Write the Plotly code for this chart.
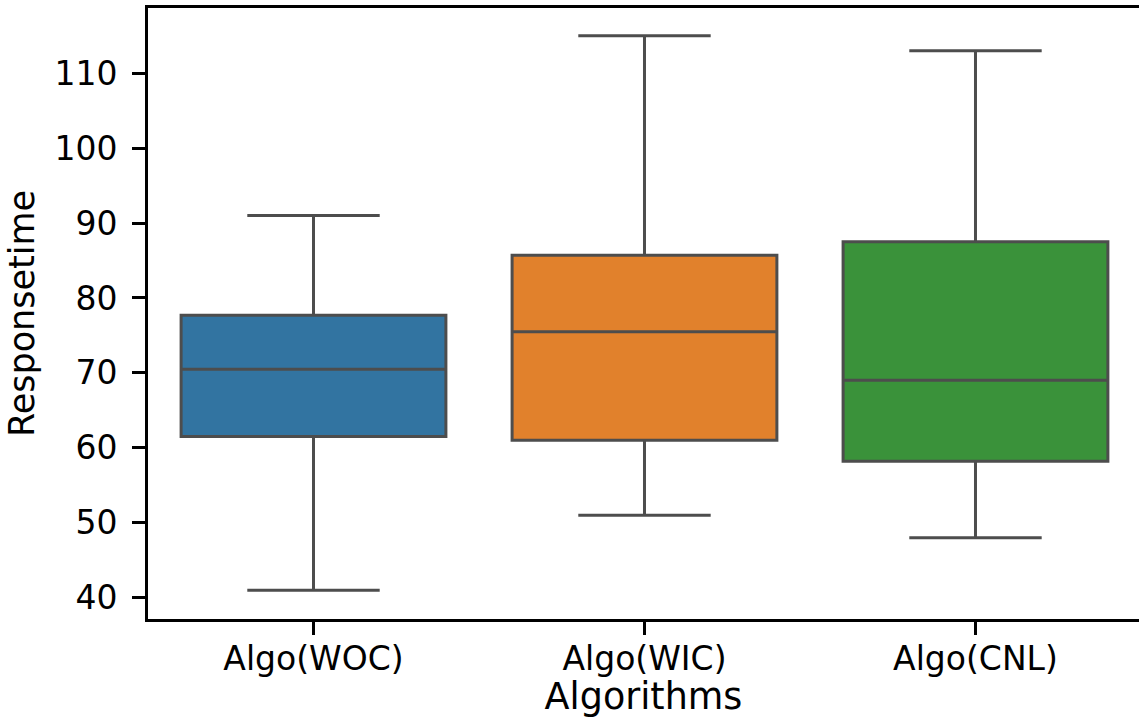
import plotly.graph_objects as go

# Box statistics per algorithm (response time)
algorithms = ["Algo(WOC)", "Algo(WIC)", "Algo(CNL)"]
lower_whisker = [41, 51, 48]
q1 = [61.5, 61, 58.2]
median = [70.5, 75.5, 69]
q3 = [77.7, 85.7, 87.5]
upper_whisker = [91, 115, 113]
colors = ["#3274a1", "#e1812c", "#3a923a"]
y_ticks = [40, 50, 60, 70, 80, 90, 100, 110]

edge = "#4d4d4d"
font_family = "DejaVu Sans, Liberation Sans, sans-serif"

fig = go.Figure()
for i, name in enumerate(algorithms):
    fig.add_trace(go.Box(
        x=[i],
        q1=[q1[i]],
        median=[median[i]],
        q3=[q3[i]],
        lowerfence=[lower_whisker[i]],
        upperfence=[upper_whisker[i]],
        name=name,
        width=0.8,
        whiskerwidth=0.5,
        fillcolor=colors[i],
        line=dict(color=edge, width=3),
        boxpoints=False,
        hoverinfo="skip",
        showlegend=False,
    ))

fig.update_layout(
    width=1139,
    height=718,
    margin=dict(l=148, r=0, t=8, b=99),
    paper_bgcolor="white",
    plot_bgcolor="white",
    boxmode="overlay",
    font=dict(family=font_family, color="black"),
    showlegend=False,
)

fig.update_xaxes(
    range=[-0.5, 2.494],
    tickmode="array",
    tickvals=list(range(len(algorithms))),
    ticktext=algorithms,
    ticks="outside",
    ticklen=13,
    tickwidth=3,
    tickcolor="black",
    tickfont=dict(size=33, family=font_family, color="black"),
    ticklabelstandoff=-5,
    showline=True,
    linecolor="black",
    linewidth=3,
    mirror=True,
    showgrid=False,
    zeroline=False,
    title=dict(text="Algorithms", font=dict(size=36.5, family=font_family, color="black"), standoff=8),
)

fig.update_yaxes(
    range=[37.15, 118.7],
    tickmode="array",
    tickvals=y_ticks,
    ticks="outside",
    ticklen=13,
    tickwidth=3,
    tickcolor="black",
    tickfont=dict(size=33, family=font_family, color="black"),
    ticklabelstandoff=8,
    showline=True,
    linecolor="black",
    linewidth=3,
    mirror=False,
    showgrid=False,
    zeroline=False,
    title=dict(text="Responsetime", font=dict(size=35, family=font_family, color="black"), standoff=10),
)

fig.write_html("out.html")
